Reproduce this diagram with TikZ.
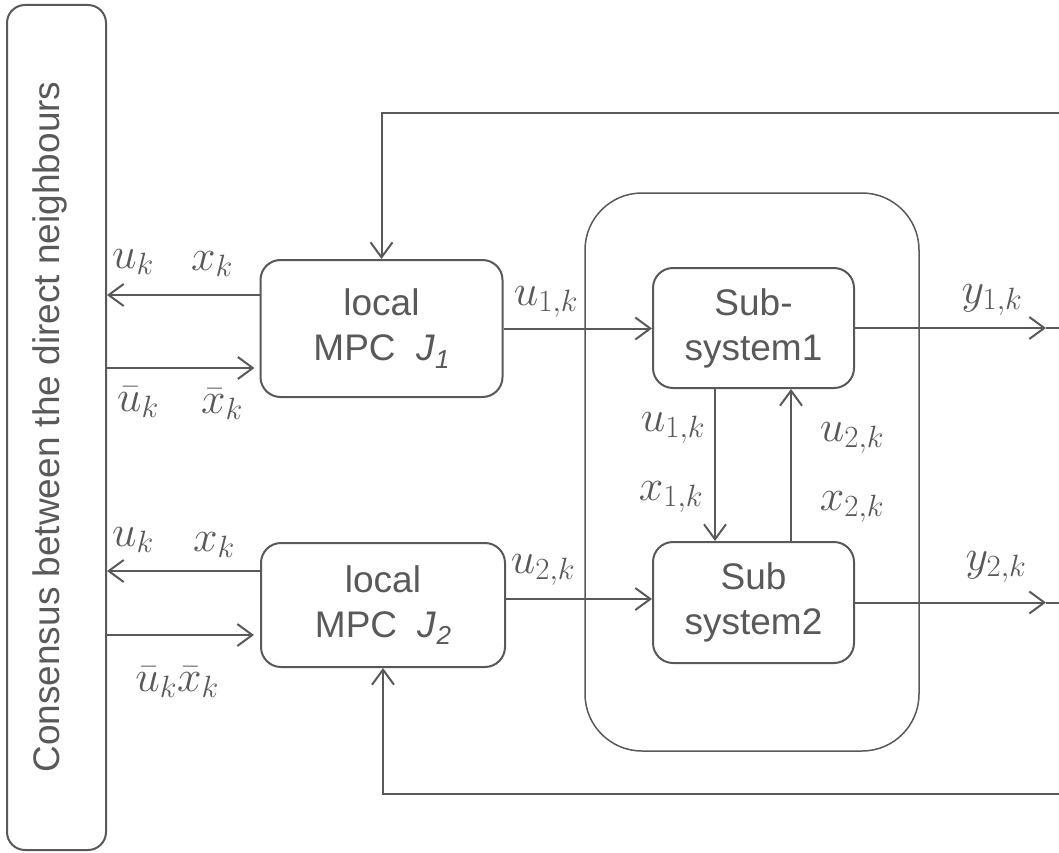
\RequirePackage{fix-cm}
\documentclass[tikz,border=0pt]{standalone}
\usepackage[no-math]{fontspec}
\setmainfont{Liberation Sans}
\usetikzlibrary{arrows.meta}
\definecolor{lg}{RGB}{89,89,89}
\tikzset{
  box/.style={draw=lg, line width=2pt, rounded corners=20pt, align=center, text=lg,
    font=\fontsize{37}{45}\selectfont, inner sep=0pt},
  arr/.style={draw=lg, line width=2pt, -{Straight Barb[length=15pt,width=22pt,line width=2pt]}},
  ln/.style={draw=lg, line width=2pt},
  lab/.style={text=lg, font=\fontsize{44}{50}\selectfont, inner sep=0pt},
}
\newcommand{\jsub}[1]{\textit{J}\raisebox{-0.4ex}{\fontsize{26}{26}\selectfont\itshape #1}}
\begin{document}
\begin{tikzpicture}[x=1pt,y=-1pt]
\useasboundingbox (0,0) rectangle (1059,853);
% boxes
\node[box, rounded corners=18pt, minimum width=99pt, minimum height=845pt] (cons) at (56.5,427.5) {};
\node[text=lg, rotate=90, font=\fontsize{37}{45}\selectfont, inner sep=0pt] (constext) at (50,427) {Consensus between the direct neighbours};
\node[box, line width=1.5pt, rounded corners=57pt, minimum width=334pt, minimum height=558pt] (big) at (752,472) {};
\node[box, minimum width=242pt, minimum height=137pt] (mpc1) at (381.5,328.5) {local\\MPC\ \ \jsub{1}};
\node[box, minimum width=244pt, minimum height=124pt] (mpc2) at (383,605) {local\\MPC\ \ \jsub{2}};
\node[box, minimum width=201pt, minimum height=120pt] (sub1) at (753.5,328) {Sub-\\system1};
\node[box, minimum width=201pt, minimum height=121pt] (sub2) at (753.5,602.5) {Sub\\system2};
% edge coordinates
\coordinate (fbT) at (1059,113);
\coordinate (fbB) at (1059,794);
\coordinate (y1tip) at (1046,328);
\coordinate (y1edge) at (1059,328);
\coordinate (y2tip) at (1046,602.5);
\coordinate (y2edge) at (1059,602.5);
% feedback
\draw[arr] (fbT) -| (mpc1.north);
\draw[arr] (fbB) -| (mpc2.south);
% consensus exchange
\draw[arr] ([yshift=33.5pt]mpc1.west) -- ([yshift=33.5pt]mpc1.west -| cons.east);
\draw[arr, shorten >=5pt] ([yshift=-39.5pt]mpc1.west -| cons.east) -- ([yshift=-39.5pt]mpc1.west);
\draw[arr] ([yshift=34pt]mpc2.west) -- ([yshift=34pt]mpc2.west -| cons.east);
\draw[arr, shorten >=6pt] ([yshift=-30pt]mpc2.west -| cons.east) -- ([yshift=-30pt]mpc2.west);
% controls
\draw[arr] (mpc1.east) -- (mpc1.east -| sub1.west);
\draw[arr] ([yshift=6pt]mpc2.east) -- ([yshift=6pt]mpc2.east -| sub2.west);
% outputs
\draw[arr] (sub1.east) -- (y1tip);
\draw[ln] (y1tip) -- (y1edge);
\draw[arr] (sub2.east) -- (y2tip);
\draw[ln] (y2tip) -- (y2edge);
% coupling
\draw[arr] ([xshift=-38.5pt]sub1.south) -- ([xshift=-38.5pt]sub2.north);
\draw[arr] ([xshift=37.5pt]sub2.north) -- ([xshift=37.5pt]sub1.south);
% labels
\node[lab] (l1) at (133,262) {$u_k$};
\node[lab] (l2) at (212,264) {$x_k$};
\node[lab] (l3) at (138,402) {$\bar u_k$};
\node[lab] (l4) at (222,404) {$\bar x_k$};
\node[lab] (l5) at (133,540) {$u_k$};
\node[lab] (l6) at (214,545) {$x_k$};
\node[lab] (l7) at (177,682) {$\bar u_k\bar x_k$};
\node[lab] (l8) at (546,302) {$u_{1,k}$};
\node[lab] (l9) at (543,570) {$u_{2,k}$};
\node[lab] (l10) at (673,428) {$u_{1,k}$};
\node[lab] (l11) at (671,497) {$x_{1,k}$};
\node[lab] (l12) at (852,438) {$u_{2,k}$};
\node[lab] (l13) at (852,507) {$x_{2,k}$};
\node[lab] (l14) at (992,300) {$y_{1,k}$};
\node[lab] (l15) at (996,567) {$y_{2,k}$};
\end{tikzpicture}
\end{document}
